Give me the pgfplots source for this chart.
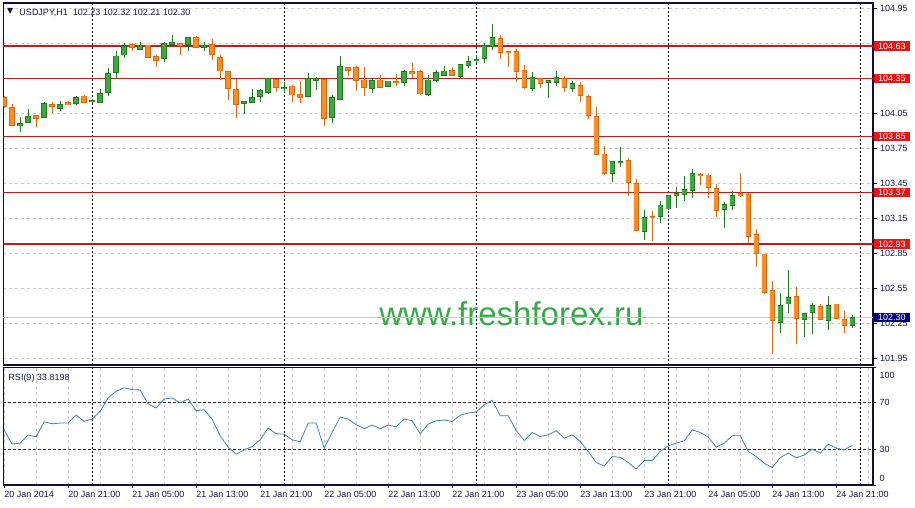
\documentclass[border=0pt]{standalone}
\usepackage{fontspec}
\setmainfont{Liberation Sans}
\newfontfamily\dejavu{DejaVu Sans}
\usepackage{pgfplots}
\usepackage{pgfplotstable}
\pgfplotsset{compat=1.18}

\definecolor{bullc}{RGB}{62,170,62}
\definecolor{bulle}{RGB}{35,120,35}
\definecolor{bearc}{RGB}{255,140,30}
\definecolor{beare}{RGB}{215,105,20}
\definecolor{lvlred}{RGB}{195,25,25}
\definecolor{boxred}{RGB}{235,20,20}
\definecolor{navyt}{RGB}{20,20,80}
\definecolor{frame}{RGB}{15,15,60}
\definecolor{gridc}{RGB}{200,200,200}
\definecolor{rsic}{RGB}{65,130,170}
\definecolor{wm}{RGB}{56,168,72}
\definecolor{bidbox}{RGB}{0,0,120}

\newcommand{\lvl}[1]{{\setlength{\fboxsep}{1.4pt}\colorbox{boxred}{\hspace{2.2pt}\textcolor{white}{#1}\hspace{2.8pt}}}}
\newcommand{\bid}[1]{{\setlength{\fboxsep}{1.4pt}\colorbox{bidbox}{\hspace{2.2pt}\textcolor{white}{#1}\hspace{2.8pt}}}}

\pgfplotstableread{
i o h l c
2 103.946 104.023 103.895 103.967
3 103.975 104.089 103.969 104.029
5 104.015 104.152 104.012 104.138
7 104.095 104.158 104.072 104.130
9 104.135 104.201 104.126 104.190
11 104.152 104.178 104.138 104.164
12 104.143 104.258 104.141 104.224
13 104.229 104.439 104.204 104.396
14 104.404 104.587 104.347 104.544
15 104.553 104.653 104.525 104.630
17 104.596 104.664 104.592 104.630
20 104.521 104.662 104.495 104.653
21 104.645 104.725 104.642 104.664
23 104.645 104.707 104.590 104.705
25 104.619 104.662 104.590 104.639
30 104.138 104.161 104.044 104.158
31 104.147 104.258 104.138 104.190
32 104.195 104.258 104.152 104.246
33 104.233 104.353 104.216 104.349
35 104.264 104.319 104.229 104.276
38 104.195 104.401 104.192 104.353
39 104.338 104.367 104.252 104.353
41 104.015 104.210 103.972 104.190
42 104.173 104.544 104.170 104.458
46 104.267 104.353 104.229 104.336
48 104.281 104.332 104.276 104.330
50 104.315 104.424 104.287 104.416
53 104.210 104.381 104.204 104.338
54 104.338 104.424 104.324 104.401
55 104.381 104.458 104.379 104.416
57 104.373 104.476 104.358 104.473
58 104.461 104.544 104.444 104.501
59 104.504 104.553 104.482 104.516
60 104.525 104.658 104.482 104.639
61 104.624 104.819 104.596 104.705
66 104.264 104.410 104.246 104.361
68 104.321 104.338 104.186 104.332
69 104.319 104.418 104.289 104.361
71 104.267 104.330 104.233 104.310
76 103.537 103.645 103.465 103.643
77 103.630 103.766 103.589 103.643
80 103.042 103.222 102.965 103.160
82 103.165 103.302 103.113 103.265
83 103.231 103.345 103.228 103.343
84 103.345 103.417 103.242 103.366
85 103.357 103.514 103.302 103.400
86 103.388 103.572 103.328 103.537
90 103.228 103.294 103.070 103.274
91 103.265 103.385 103.228 103.351
97 102.255 102.507 102.164 102.407
98 102.416 102.707 102.336 102.473
100 102.284 102.338 102.130 102.336
101 102.341 102.421 102.158 102.407
103 102.278 102.484 102.192 102.407
106 102.230 102.320 102.210 102.300
}\bulldata

\pgfplotstableread{
i o h l c
0 104.190 104.197 104.102 104.109
1 104.104 104.132 103.943 103.952
4 104.035 104.038 103.937 104.006
6 104.132 104.152 104.052 104.109
8 104.143 104.158 104.126 104.130
10 104.201 104.210 104.138 104.143
16 104.641 104.653 104.590 104.619
18 104.639 104.641 104.527 104.530
19 104.544 104.553 104.452 104.510
22 104.653 104.658 104.553 104.633
24 104.701 104.716 104.616 104.619
26 104.645 104.688 104.516 104.559
27 104.533 104.553 104.338 104.416
28 104.410 104.413 104.167 104.267
29 104.258 104.344 104.010 104.130
34 104.344 104.347 104.233 104.272
36 104.287 104.295 104.152 104.210
37 104.216 104.332 104.138 104.186
40 104.344 104.347 103.943 104.010
43 104.447 104.450 104.373 104.418
44 104.444 104.458 104.244 104.338
45 104.338 104.447 104.204 104.272
47 104.338 104.381 104.270 104.272
49 104.330 104.387 104.287 104.315
51 104.410 104.487 104.358 104.396
52 104.410 104.424 104.210 104.218
56 104.424 104.452 104.373 104.381
62 104.696 104.725 104.519 104.573
63 104.587 104.590 104.452 104.573
64 104.587 104.602 104.324 104.410
65 104.424 104.467 104.258 104.272
67 104.353 104.355 104.267 104.310
70 104.353 104.373 104.233 104.276
72 104.295 104.324 104.152 104.204
73 104.201 104.210 104.001 104.032
74 104.029 104.104 103.694 103.703
75 103.703 103.772 103.523 103.537
78 103.652 103.666 103.345 103.460
79 103.452 103.486 103.042 103.045
81 103.171 103.214 102.956 103.158
87 103.531 103.543 103.437 103.517
88 103.523 103.529 103.323 103.417
89 103.409 103.446 103.165 103.216
92 103.366 103.537 103.331 103.345
93 103.360 103.366 102.936 102.993
94 103.014 103.057 102.736 102.851
95 102.845 102.847 102.501 102.516
96 102.536 102.613 101.986 102.272
99 102.484 102.559 102.070 102.293
102 102.398 102.421 102.278 102.284
104 102.416 102.418 102.284 102.293
105 102.284 102.355 102.169 102.235
}\beardata

\pgfplotstableread{
i r
0 47.0
1 34.8
2 35.6
3 42.5
4 41.0
5 53.8
6 52.1
7 52.7
8 52.7
9 59.6
10 54.1
11 56.1
12 62.7
13 74.1
14 79.8
15 82.6
16 81.2
17 80.9
18 69.0
19 65.5
20 73.2
21 74.1
22 69.8
23 73.2
24 63.2
25 64.1
26 56.1
27 41.9
28 32.2
29 26.2
30 29.9
31 32.7
32 38.5
33 48.5
34 43.6
35 43.3
36 38.5
37 36.8
38 52.7
39 52.7
40 31.4
41 44.7
42 57.9
43 56.1
44 51.3
45 47.9
46 51.0
47 47.9
48 51.0
49 49.6
50 56.1
51 54.7
52 43.6
53 51.9
54 54.7
55 55.3
56 54.1
57 59.4
58 61.3
59 62.1
60 68.4
61 72.1
62 59.0
63 59.0
64 46.4
65 37.9
66 44.7
67 41.3
68 42.7
69 46.2
70 39.9
71 42.7
72 37.0
73 28.5
74 19.1
75 16.2
76 24.2
77 23.6
78 19.1
79 13.7
80 20.8
81 20.8
82 28.5
83 33.3
84 35.6
85 37.6
86 47.0
87 44.7
88 40.7
89 32.2
90 35.6
91 41.9
92 41.9
93 28.5
94 24.2
95 18.5
96 14.8
97 23.4
98 27.1
99 23.1
100 25.6
101 30.5
102 27.1
103 34.8
104 31.4
105 29.9
106 33.8
}\rsidata

\pgfplotsset{
  mt/.style={
    scale only axis, width=869.7pt, xmin=-0.1, xmax=108.59,
    axis line style={frame, line width=1.1pt},
    tick style={frame, line width=0.6pt},
    grid style={gridc, dash pattern=on 3pt off 3pt, line width=0.6pt},
    minor grid style={gridc, dash pattern=on 3pt off 3pt, line width=0.6pt},
    tick label style={font=\fontsize{9}{10}\selectfont, text=navyt},
    tick align=outside,
    ytick pos=right, yticklabel pos=right,
    minor tick length=0pt,
    extra x ticks={11,35,59,83,107},
    extra x tick labels={},
    extra x tick style={grid=major, major grid style={black, dash pattern=on 2pt off 2pt, line width=0.9pt}, major tick length=0pt},
  },
  wick/.style={draw=none, no markers, forget plot,
    error bars/.cd, y dir=both, y explicit, error mark=none,
    error bar style={line width=1pt, draw=#1, solid}},
  body/.style={draw=none, no markers, forget plot,
    error bars/.cd, y dir=both, y explicit, error mark=none,
    error bar style={line width=5.4pt, draw=#1, solid}},
  bodyin/.style={draw=none, no markers, forget plot,
    error bars/.cd, y dir=both, y explicit, error mark=none,
    error bar style={line width=3.6pt, draw=#1, solid}},
}

\begin{document}
\begin{tikzpicture}
\useasboundingbox (0pt,0pt) rectangle (915pt,507pt);

\begin{axis}[mt, at={(3.3pt,142pt)}, anchor=south west, height=362pt,
  ymin=101.892, ymax=104.999,
  xtick=\empty, minor xtick={0,4,...,108}, xminorgrids,
  ytick={101.95,102.25,102.55,102.85,103.15,103.45,103.75,104.05,104.35,104.65,104.95},
  yticklabels={101.95,102.25,102.55,102.85,103.15,103.45,103.75,104.05,,,104.95},
  ymajorgrids, major tick length=3.5pt,
  extra y ticks={104.63,104.35,103.85,103.37,102.93,102.30},
  extra y tick labels={\lvl{104.63},\lvl{104.35},\lvl{103.85},\lvl{103.37},\lvl{102.93},\bid{102.30}},
  extra y tick style={grid=none, major tick length=0pt, yticklabel style={inner xsep=1.2pt}},
]
\node[inner sep=0pt, text=wm, font=\fontsize{33}{33}\selectfont] at (axis cs:63.4,102.33) {www.freshforex.ru};
\addplot[gray!45, line width=0.6pt, forget plot] coordinates {(-0.1,102.30) (108.59,102.30)};
\addplot[lvlred, line width=1.2pt, forget plot] coordinates {(-0.1,104.63) (108.59,104.63)};
\addplot[lvlred, line width=1.2pt, forget plot] coordinates {(-0.1,104.35) (108.59,104.35)};
\addplot[lvlred, line width=1.2pt, forget plot] coordinates {(-0.1,103.85) (108.59,103.85)};
\addplot[lvlred, line width=1.2pt, forget plot] coordinates {(-0.1,103.37) (108.59,103.37)};
\addplot[lvlred, line width=1.2pt, forget plot] coordinates {(-0.1,102.93) (108.59,102.93)};

\addplot[wick=bulle] table[x=i, y expr=(\thisrow{h}+\thisrow{l})/2, y error expr=(\thisrow{h}-\thisrow{l})/2] {\bulldata};
\addplot[wick=beare] table[x=i, y expr=(\thisrow{h}+\thisrow{l})/2, y error expr=(\thisrow{h}-\thisrow{l})/2] {\beardata};
\addplot[body=bulle] table[x=i, y expr=(\thisrow{o}+\thisrow{c})/2, y error expr=(\thisrow{c}-\thisrow{o})/2+0.004] {\bulldata};
\addplot[body=beare] table[x=i, y expr=(\thisrow{o}+\thisrow{c})/2, y error expr=(\thisrow{o}-\thisrow{c})/2+0.004] {\beardata};
\addplot[bodyin=bullc] table[x=i, y expr=(\thisrow{o}+\thisrow{c})/2, y error expr={max((\thisrow{c}-\thisrow{o})/2-0.004,0)}] {\bulldata};
\addplot[bodyin=bearc] table[x=i, y expr=(\thisrow{o}+\thisrow{c})/2, y error expr={max((\thisrow{o}-\thisrow{c})/2-0.004,0)}] {\beardata};
\end{axis}

\begin{axis}[mt, at={(3.3pt,22pt)}, anchor=south west, height=117.5pt,
  ymin=0, ymax=100,
  xtick={0,8,...,104},
  xticklabels={20 Jan 2014,20 Jan 21:00,21 Jan 05:00,21 Jan 13:00,21 Jan 21:00,22 Jan 05:00,22 Jan 13:00,22 Jan 21:00,23 Jan 05:00,23 Jan 13:00,23 Jan 21:00,24 Jan 05:00,24 Jan 13:00,24 Jan 21:00},
  minor xtick={4,12,...,108}, xmajorgrids, xminorgrids,
  major tick length=3pt,
  xtick pos=left,
  xticklabel style={anchor=north west, inner xsep=0pt},
  ytick={0,30,70,100},
  yticklabels={{\raisebox{3.75pt}[0pt][0pt]{0}},30,70,{\raisebox{-10.75pt}[0pt][0pt]{100}}},
]
\addplot[black!85, dash pattern=on 3pt off 2pt, line width=0.7pt, forget plot] coordinates {(-0.1,70) (108.59,70)};
\addplot[black!85, dash pattern=on 3pt off 2pt, line width=0.7pt, forget plot] coordinates {(-0.1,30) (108.59,30)};
\addplot[rsic, line width=0.8pt] table[x=i, y=r] {\rsidata};
\end{axis}

\node[anchor=west, inner sep=0pt, text=navyt, font=\dejavu\fontsize{8}{8}\selectfont] at (6.8pt,495.5pt) {▼};
\node[anchor=base west, inner sep=0pt, text=navyt, font=\fontsize{9}{10}\selectfont] at (19.3pt,491.5pt) {USDJPY,H1\hspace{5pt}102.23 102.32 102.21 102.30};
\node[anchor=base west, inner sep=0pt, text=navyt, font=\fontsize{9}{10}\selectfont] at (8.3pt,127pt) {RSI(9) 33.8198};
\end{tikzpicture}
\end{document}
